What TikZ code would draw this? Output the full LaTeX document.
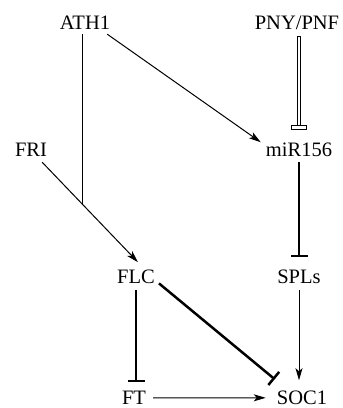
\documentclass[tikz,border=0pt]{standalone}
\usepackage{fontspec}
\setmainfont{Liberation Serif}
\usetikzlibrary{arrows.meta,calc}

\tikzset{
  gene/.style={inner sep=0pt, anchor=base, font=\fontsize{20.5}{24}\selectfont},
  activates/.style={line width=1pt, -{Stealth[length=12pt, width=7pt, inset=3pt]}},
  represses/.style={line width=2.5pt, -{Bar[width=17pt]}},
  plainlink/.style={line width=1pt},
  doublelink/.style={double, line width=0.9pt, double distance=2.6pt, line cap=rect},
}

\begin{document}
\begin{tikzpicture}[x=1pt, y=-1pt]
  \useasboundingbox (0,0) rectangle (343,408);

  % genes
  \node[gene] (ath1) at (85,29)  {ATH1};
  \node[gene] (pny)  at (297,29) {PNY/PNF};
  \node[gene] (fri)  at (31,156) {FRI};
  \node[gene] (mir)  at (299,156) {miR156};
  \node[gene] (flc)  at (136,283) {FLC};
  \node[gene] (spls) at (299,283) {SPLs};
  \node[gene] (ft)   at (134,404.5) {FT};
  \node[gene] (soc1) at (302,404.5) {SOC1};

  % FRI activates FLC; ATH1 feeds into that link
  \coordinate (friout) at ($(fri.south east)+(-5,6)$);
  \coordinate (flcin)  at ($(flc.north)+(2,-7)$);
  \draw[activates] (friout) -- (flcin);
  \path (friout) -- (flcin) coordinate[pos=0.4167] (j);
  \draw[plainlink] ($(j |- ath1.south)+(0,5)$) -- (j);

  % ATH1 activates miR156
  \draw[activates] ($(ath1.south east)+(-3,5)$) -- ($(mir.north west)+(-5,0)$);

  % PNY/PNF represses miR156 (outlined double link)
  \coordinate (pnyout) at ($(pny.south)+(2,9)$);
  \coordinate (mirbar) at ($(mir.north)+(0,-15)$);
  \draw[doublelink] (pnyout) -- (mirbar);
  \draw[line width=0.9pt, fill=white] ($(mirbar)+(-7.5,-2)$) rectangle ($(mirbar)+(7.5,2)$);

  % miR156 represses SPLs
  \draw[represses] ($(mir.south)+(0,6)$) -- ($(spls.north)+(0,-12)$);

  % SPLs activates SOC1
  \draw[activates] ($(spls.south)+(0,7)$) -- ($(spls.south |- soc1.north)+(0,-10.5)$);

  % FLC represses FT and SOC1
  \draw[represses] ($(flc.south)+(0,7)$) -- ($(flc.south |- ft.north)+(0,-8.5)$);
  \draw[represses] ($(flc.south east)+(4,0)$) -- ($(soc1.north west)+(-2,-11.5)$);

  % FT activates SOC1
  \draw[activates] ($(ft.east)+(7,0)$) -- ($(soc1.west)+(-11,0)$);
\end{tikzpicture}
\end{document}
